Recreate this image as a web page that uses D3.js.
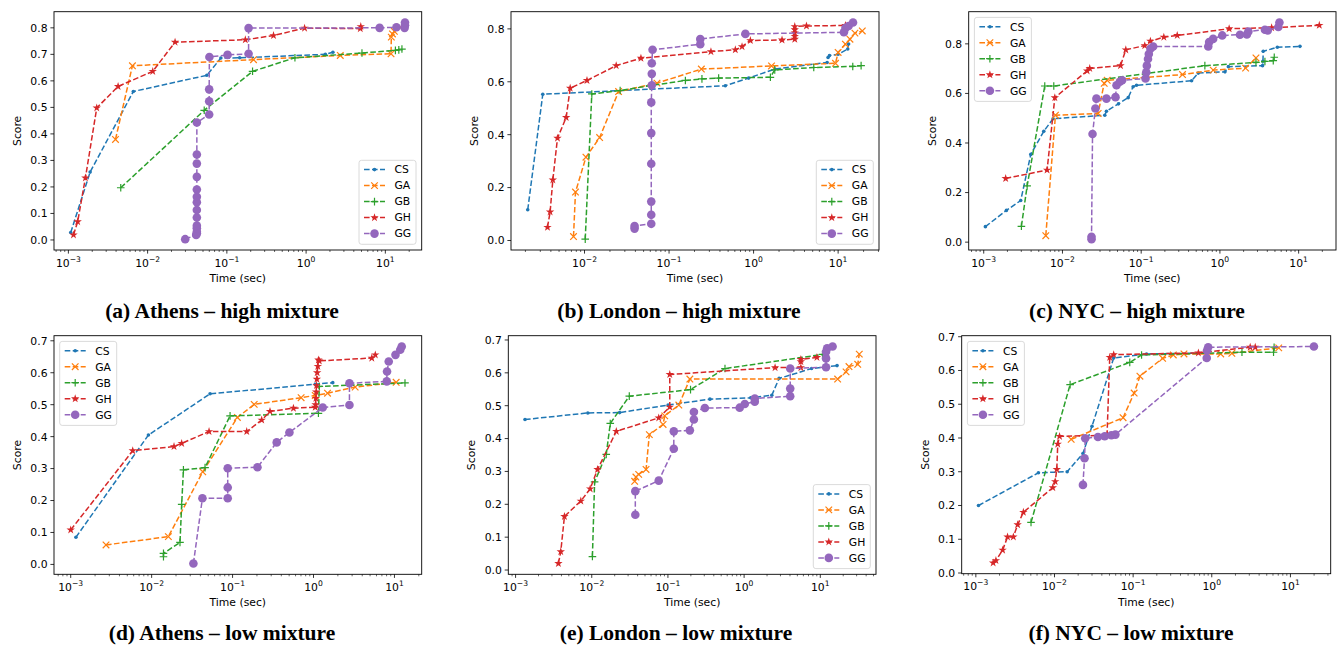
<!DOCTYPE html>
<html>
<head>
<meta charset="utf-8">
<script src="https://cdn.jsdelivr.net/npm/d3@7"></script>
<style>
  body { margin: 0; background: #fff; }
  svg { display: block; }
  text { font-family: "DejaVu Sans", sans-serif; }
</style>
</head>
<body>
<svg id="chart" width="1340" height="649"></svg>
<script>
// series names and colours (matplotlib tab10)
const seriesNames = ['CS', 'GA', 'GB', 'GH', 'GG'];
const seriesColors = ['#1f77b4', '#ff7f0e', '#2ca02c', '#d62728', '#9467bd'];

// (a) Athens - high mixture  [time (sec), score]
const aCS = [[0.00107,0.028],[0.00188,0.256],[0.0066,0.56],[0.0559,0.621],[0.084,0.686],[0.145,0.687],[1.75,0.70],[2.18,0.708]];
const aGA = [[0.00393,0.379],[0.00643,0.657],[0.217,0.68],[2.70,0.696],[11.8,0.702],[11.9,0.765],[12.3,0.777],[13.0,0.787],[15.5,0.802]];
const aGB = [[0.00458,0.197],[0.0518,0.489],[0.211,0.636],[0.723,0.687],[5.07,0.705],[13.4,0.715],[14.8,0.717],[16.2,0.72]];
const aGH = [[0.00116,0.019],[0.00131,0.069],[0.00164,0.234],[0.00228,0.498],[0.00424,0.579],[0.0116,0.636],[0.0222,0.746],[0.171,0.755],[0.388,0.771],[0.957,0.799],[4.83,0.797],[4.9,0.805]];
const aGG = [[0.0298,0.003],[0.041,0.019],[0.0418,0.025],[0.0418,0.031],[0.0418,0.044],[0.0418,0.054],[0.0418,0.085],[0.0418,0.113],[0.0418,0.142],[0.0418,0.163],[0.0418,0.19],[0.0418,0.238],[0.0418,0.288],[0.0418,0.322],[0.0418,0.443],[0.0598,0.473],[0.0598,0.523],[0.0598,0.568],[0.0602,0.69],[0.102,0.698],[0.188,0.702],[0.188,0.799],[8.47,0.80],[13.8,0.802],[17.5,0.80],[17.7,0.81],[17.7,0.82]];

// (b) London - high mixture
const bCS = [[0.00213,0.116],[0.00321,0.553],[0.463,0.585],[0.875,0.614],[1.78,0.648],[7.41,0.673],[7.6,0.692],[7.9,0.699],[10.0,0.704],[13.0,0.724],[13.3,0.743]];
const bGA = [[0.00741,0.015],[0.00782,0.183],[0.0104,0.315],[0.0151,0.389],[0.0253,0.563],[0.072,0.595],[0.241,0.648],[1.63,0.66],[9.31,0.670],[10.0,0.711],[12.2,0.742],[13.8,0.761],[15.8,0.784],[19.3,0.792]];
const bGB = [[0.0102,0.005],[0.0122,0.554],[0.0264,0.567],[0.0589,0.585],[0.156,0.605],[0.245,0.611],[0.386,0.614],[1.58,0.617],[1.78,0.645],[5.15,0.654],[14.9,0.658],[18.7,0.661]];
const bGH = [[0.00365,0.05],[0.00392,0.108],[0.00422,0.229],[0.00479,0.387],[0.00607,0.465],[0.00677,0.576],[0.0107,0.605],[0.0237,0.661],[0.0465,0.689],[0.313,0.714],[0.608,0.721],[0.73,0.733],[0.916,0.756],[2.17,0.758],[3.07,0.761],[3.07,0.772],[3.07,0.785],[3.07,0.797],[3.07,0.809],[4.22,0.811],[12.2,0.813]];
const bGG = [[0.0391,0.045],[0.0391,0.055],[0.0616,0.063],[0.0616,0.097],[0.0616,0.147],[0.0616,0.29],[0.0616,0.406],[0.0616,0.522],[0.0625,0.587],[0.0625,0.63],[0.0625,0.67],[0.0638,0.721],[0.234,0.742],[0.234,0.762],[0.80,0.781],[11.7,0.787],[12.2,0.803],[13.3,0.811],[15.0,0.824]];

// (c) NYC - high mixture
const cCS = [[0.00105,0.0625],[0.00194,0.128],[0.00295,0.168],[0.00396,0.354],[0.00579,0.447],[0.0076,0.498],[0.0345,0.512],[0.0362,0.528],[0.0515,0.558],[0.0684,0.583],[0.079,0.627],[0.0873,0.633],[0.437,0.651],[0.531,0.682],[1.16,0.687],[1.28,0.708],[3.48,0.712],[3.52,0.73],[3.55,0.77],[5.36,0.786],[10.4,0.79]];
const cGA = [[0.00614,0.026],[0.00815,0.512],[0.0284,0.519],[0.0339,0.641],[0.037,0.653],[0.335,0.676],[0.822,0.694],[2.12,0.702],[2.87,0.743]];
const cGB = [[0.00301,0.064],[0.00356,0.227],[0.00596,0.63],[0.00776,0.63],[0.644,0.712],[2.87,0.725],[3.73,0.729],[4.76,0.732],[4.9,0.746]];
const cGH = [[0.0019,0.257],[0.00638,0.291],[0.008,0.583],[0.0206,0.691],[0.0222,0.701],[0.0546,0.712],[0.0638,0.776],[0.111,0.793],[0.131,0.811],[0.194,0.827],[0.287,0.834],[1.31,0.861],[4.54,0.865],[18.3,0.875]];
const cGG = [[0.0234,0.012],[0.0234,0.022],[0.0241,0.436],[0.0262,0.539],[0.027,0.579],[0.0362,0.579],[0.0472,0.585],[0.0486,0.633],[0.0536,0.647],[0.0573,0.653],[0.1135,0.66],[0.116,0.685],[0.118,0.712],[0.122,0.739],[0.125,0.759],[0.131,0.78],[0.142,0.789],[0.711,0.789],[0.73,0.807],[0.82,0.82],[1.07,0.834],[1.80,0.837],[2.2,0.838],[2.3,0.85],[3.73,0.857],[4.05,0.854],[5.52,0.868],[5.7,0.886]];

// (d) Athens - low mixture
const dCS = [[0.00116,0.085],[0.00912,0.405],[0.0527,0.534],[1.05,0.564],[1.73,0.569]];
const dGA = [[0.00273,0.061],[0.0161,0.087],[0.0428,0.29],[0.1147,0.46],[0.185,0.501],[0.703,0.522],[1.05,0.529],[1.49,0.536],[3.27,0.555],[10.5,0.57]];
const dGB = [[0.014,0.024],[0.014,0.0345],[0.0224,0.069],[0.0235,0.188],[0.0247,0.296],[0.0457,0.303],[0.0931,0.465],[1.15,0.473],[1.18,0.557],[13.5,0.568]];
const dGH = [[0.001,0.108],[0.00584,0.356],[0.0189,0.369],[0.0235,0.379],[0.0512,0.416],[0.1496,0.416],[0.229,0.452],[0.29,0.479],[0.565,0.489],[1.05,0.492],[1.06,0.50],[1.07,0.52],[1.08,0.54],[1.09,0.56],[1.10,0.58],[1.11,0.60],[1.13,0.62],[1.15,0.64],[1.18,0.637],[5.25,0.646],[5.8,0.656]];
const dGG = [[0.0328,0.003],[0.0424,0.207],[0.0871,0.207],[0.0871,0.241],[0.0871,0.301],[0.203,0.304],[0.351,0.382],[0.504,0.413],[1.30,0.491],[2.78,0.499],[2.78,0.567],[8.04,0.573],[8.1,0.604],[8.5,0.635],[10.3,0.656],[11.8,0.672],[12.3,0.682]];

// (e) London - low mixture
const eCS = [[0.00133,0.458],[0.00888,0.478],[0.0232,0.479],[0.1005,0.502],[0.356,0.52],[1.22,0.524],[2.31,0.532],[2.88,0.583],[7.69,0.613],[16.6,0.622]];
const eGA = [[0.0366,0.27],[0.038,0.283],[0.0413,0.291],[0.0516,0.306],[0.057,0.412],[0.0864,0.443],[0.0908,0.469],[0.139,0.502],[0.194,0.581],[16.9,0.581],[21.8,0.603],[23.8,0.619],[31.0,0.626],[32.5,0.657]];
const eGB = [[0.0102,0.041],[0.0109,0.268],[0.0155,0.352],[0.0175,0.446],[0.0311,0.529],[0.198,0.549],[0.561,0.613],[10.7,0.656]];
const eGH = [[0.00365,0.02],[0.00392,0.056],[0.00438,0.163],[0.00718,0.21],[0.00953,0.247],[0.0119,0.306],[0.021,0.422],[0.0757,0.463],[0.1057,0.496],[0.1057,0.595],[2.55,0.616],[5.56,0.616],[5.56,0.634],[5.56,0.641],[9.04,0.647]];
const eGG = [[0.0373,0.168],[0.0373,0.24],[0.0757,0.272],[0.1194,0.369],[0.1194,0.422],[0.194,0.425],[0.219,0.458],[0.219,0.481],[0.305,0.493],[0.875,0.494],[1.02,0.505],[1.38,0.512],[1.38,0.522],[4.03,0.529],[4.03,0.552],[4.03,0.613],[11.9,0.617],[11.9,0.644],[11.9,0.664],[12.3,0.675],[14.5,0.68]];

// (f) NYC - low mixture
const fCS = [[0.00108,0.2],[0.00625,0.297],[0.0145,0.3],[0.023,0.354],[0.030,0.435],[0.0566,0.637],[0.148,0.649],[0.863,0.652]];
const fGA = [[0.0163,0.396],[0.0745,0.46],[0.103,0.533],[0.122,0.583],[0.237,0.636],[0.324,0.646],[0.443,0.649],[1.30,0.649],[1.80,0.651],[7.1,0.667]];
const fGB = [[0.00503,0.15],[0.0158,0.558],[0.0906,0.624],[0.128,0.646],[2.42,0.654],[6.1,0.654],[6.2,0.669]];
const fGH = [[0.00166,0.03],[0.0018,0.037],[0.00219,0.068],[0.00253,0.107],[0.003,0.107],[0.0034,0.143],[0.00402,0.18],[0.00952,0.253],[0.0102,0.271],[0.0107,0.307],[0.011,0.382],[0.0116,0.405],[0.0466,0.408],[0.0504,0.639],[0.0566,0.647],[0.676,0.652],[3.08,0.669],[3.57,0.669]];
const fGG = [[0.023,0.261],[0.0241,0.34],[0.0246,0.399],[0.0357,0.403],[0.0435,0.405],[0.0529,0.408],[0.0595,0.41],[0.863,0.637],[0.87,0.659],[0.9,0.669],[19.9,0.671]];

// y tick settings per panel
const yTickSteps = [0.1, 0.2, 0.2, 0.1, 0.1, 0.1];
const yTickMax = [0.8, 0.8, 0.8, 0.7, 0.7, 0.7];
const captions = ['(a) Athens \u2013 high mixture', '(b) London \u2013 high mixture', '(c) NYC \u2013 high mixture',
                  '(d) Athens \u2013 low mixture', '(e) London \u2013 low mixture', '(f) NYC \u2013 low mixture'];

// layout: axes boxes [left, top, right, bottom], legend corner, caption centre
const panels = [
    {data: [aCS, aGA, aGB, aGH, aGG], box: [54, 11.7, 421.7, 250], legend: 'lr', capX: 222, capY: 318},
    {data: [bCS, bGA, bGB, bGH, bGG], box: [511, 11.7, 879, 250], legend: 'lr', capX: 679, capY: 318},
    {data: [cCS, cGA, cGB, cGH, cGG], box: [968.7, 11.7, 1336, 250], legend: 'ul', capX: 1137, capY: 318},
    {data: [dCS, dGA, dGB, dGH, dGG], box: [54, 335.7, 421.7, 574.3], legend: 'ul', capX: 222, capY: 640},
    {data: [eCS, eGA, eGB, eGH, eGG], box: [508.3, 335.7, 876, 574.3], legend: 'lr', capX: 676, capY: 640},
    {data: [fCS, fGA, fGB, fGH, fGG], box: [961.7, 335.7, 1330.7, 573.7], legend: 'ul', capX: 1131, capY: 640},
];

const svg = d3.select('#chart');
svg.append('rect').attr('width', 1340).attr('height', 649).attr('fill', '#fff');

const FS = 10.8;

// draw one marker of series k at (0,0) inside g
function marker(g, k) {
    const c = seriesColors[k];
    if (k === 0) {
        g.append('circle').attr('r', 1.8).attr('fill', c);
    } else if (k === 1) {
        const s = 3.3;
        g.append('path').attr('d', `M${-s},${-s}L${s},${s}M${-s},${s}L${s},${-s}`)
            .attr('stroke', c).attr('stroke-width', 1.2).attr('fill', 'none');
    } else if (k === 2) {
        const s = 3.8;
        g.append('path').attr('d', `M${-s},0L${s},0M0,${-s}L0,${s}`)
            .attr('stroke', c).attr('stroke-width', 1.2).attr('fill', 'none');
    } else if (k === 3) {
        g.append('path').attr('d', d3.symbol().type(d3.symbolStar).size(22)())
            .attr('fill', c).attr('transform', 'rotate(0)');
    } else {
        g.append('circle').attr('r', 4.3).attr('fill', c);
    }
}

// matplotlib style 5% margins
function padded(lo, hi) {
    const m = (hi - lo) * 0.05;
    return [lo - m, hi + m];
}

panels.forEach(function(p, pi) {
    const [L, T, R, B] = p.box;
    const all = p.data.flat();
    const lx = padded(d3.min(all, d => Math.log10(d[0])), d3.max(all, d => Math.log10(d[0])));
    const ly = padded(d3.min(all, d => d[1]), d3.max(all, d => d[1]));

    const x = d3.scaleLog().domain([Math.pow(10, lx[0]), Math.pow(10, lx[1])]).range([L, R]);
    const y = d3.scaleLinear().domain(ly).range([B, T]);

    const g = svg.append('g');

    // minor ticks on the log axis
    const minors = [];
    for (let e = Math.floor(lx[0]); e <= Math.ceil(lx[1]); e++) {
        for (let m = 2; m <= 9; m++) {
            const v = m * Math.pow(10, e);
            if (v >= x.domain()[0] && v <= x.domain()[1]) minors.push(v);
        }
    }
    g.selectAll('.minor').data(minors).enter().append('line')
        .attr('x1', d => x(d)).attr('x2', d => x(d))
        .attr('y1', B).attr('y2', B + 2)
        .attr('stroke', '#000').attr('stroke-width', 0.6);

    // major x ticks + labels 10^k
    const majors = d3.range(Math.ceil(lx[0]), Math.floor(lx[1]) + 1);
    majors.forEach(function(e) {
        const xx = x(Math.pow(10, e));
        g.append('line').attr('x1', xx).attr('x2', xx).attr('y1', B).attr('y2', B + 3.6)
            .attr('stroke', '#000').attr('stroke-width', 0.8);
        const t = g.append('text').attr('x', xx).attr('y', B + 16.5)
            .attr('text-anchor', 'middle').attr('font-size', FS).attr('fill', '#000');
        t.append('tspan').text('10');
        t.append('tspan').attr('dy', -5).attr('font-size', 7.6)
            .text(e < 0 ? '\u2212' + (-e) : String(e));
    });

    // y ticks
    const yt = d3.range(0, yTickMax[pi] + 1e-9, yTickSteps[pi]);
    yt.forEach(function(v) {
        const yy = y(v);
        g.append('line').attr('x1', L - 3.6).attr('x2', L).attr('y1', yy).attr('y2', yy)
            .attr('stroke', '#000').attr('stroke-width', 0.8);
        g.append('text').attr('x', L - 6.5).attr('y', yy).attr('dy', '0.36em')
            .attr('text-anchor', 'end').attr('font-size', FS).text(v.toFixed(1));
    });

    // axis labels
    g.append('text').attr('x', (L + R) / 2).attr('y', B + 32)
        .attr('text-anchor', 'middle').attr('font-size', FS).text('Time (sec)');
    g.append('text').attr('transform', `translate(${L - 33},${(T + B) / 2}) rotate(-90)`)
        .attr('text-anchor', 'middle').attr('font-size', FS).text('Score');

    // series: dashed line then markers
    const line = d3.line().x(d => x(d[0])).y(d => y(d[1]));
    p.data.forEach(function(arr, k) {
        g.append('path').datum(arr).attr('d', line)
            .attr('fill', 'none').attr('stroke', seriesColors[k])
            .attr('stroke-width', 1.5).attr('stroke-dasharray', '5.6,2.4');
        g.selectAll('.m' + k).data(arr).enter().append('g')
            .attr('transform', d => `translate(${x(d[0])},${y(d[1])})`)
            .each(function() { marker(d3.select(this), k); });
    });

    // frame
    g.append('rect').attr('x', L).attr('y', T).attr('width', R - L).attr('height', B - T)
        .attr('fill', 'none').attr('stroke', '#000').attr('stroke-width', 0.9);

    // legend
    const lw = 57, lh = 84;
    const lxp = p.legend === 'lr' ? R - 5.7 - lw : L + 5.7;
    const lyp = p.legend === 'lr' ? B - 5.7 - lh : T + 5.7;
    const lg = g.append('g').attr('transform', `translate(${lxp},${lyp})`);
    lg.append('rect').attr('width', lw).attr('height', lh).attr('rx', 2.5)
        .attr('fill', '#fff').attr('fill-opacity', 0.8)
        .attr('stroke', '#d0d0d0').attr('stroke-width', 0.8);
    seriesNames.forEach(function(name, k) {
        const ry = 9.3 + k * 16;
        lg.append('line').attr('x1', 5).attr('x2', 26).attr('y1', ry).attr('y2', ry)
            .attr('stroke', seriesColors[k]).attr('stroke-width', 1.5)
            .attr('stroke-dasharray', '5.6,2.4');
        marker(lg.append('g').attr('transform', `translate(15.5,${ry})`), k);
        lg.append('text').attr('x', 35.5).attr('y', ry).attr('dy', '0.36em')
            .attr('font-size', FS).text(name);
    });

    // caption
    svg.append('text').attr('x', p.capX).attr('y', p.capY)
        .attr('text-anchor', 'middle')
        .style('font-family', '"Liberation Serif", "DejaVu Serif", serif')
        .style('font-weight', 'bold').attr('font-size', 21.5)
        .text(captions[pi]);
});
</script>
</body>
</html>
